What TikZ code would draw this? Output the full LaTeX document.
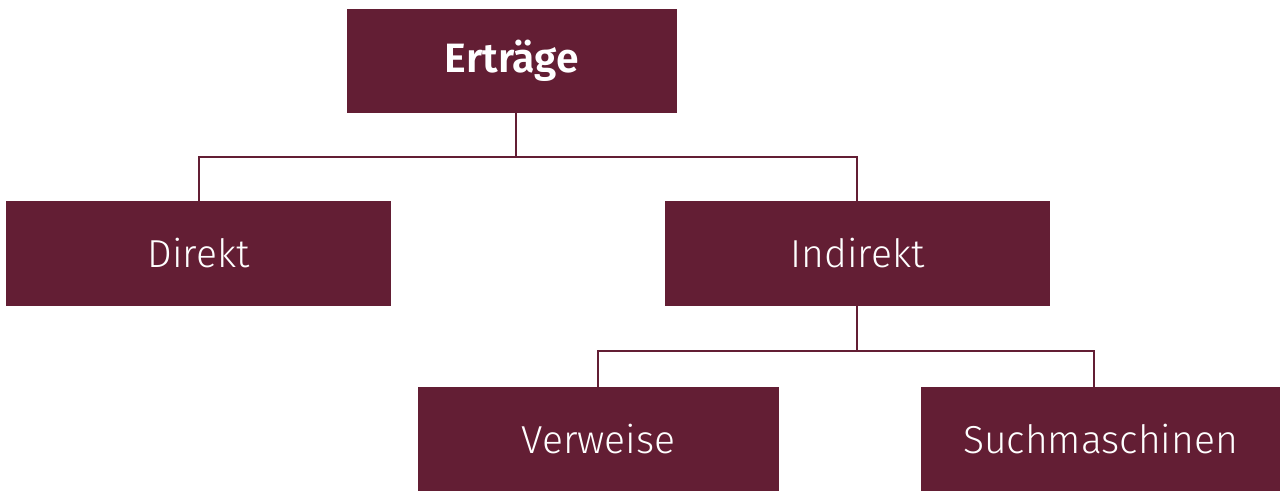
\documentclass[tikz,border=0pt]{standalone}
\usepackage{fontspec}
\setmainfont{Fira Sans Light}[BoldFont={Fira Sans SemiBold}]
\definecolor{maroon}{HTML}{631E34}
\begin{document}
\begin{tikzpicture}[x=1pt,y=-1pt,
  box/.style={fill=maroon,text=white,inner sep=0pt,font=\fontsize{39}{46}\selectfont},
  link/.style={draw=maroon,line width=2.2pt}]
\useasboundingbox (0,0) rectangle (1282,492);
\node[box,minimum width=330pt,minimum height=104pt,font=\fontsize{41}{49}\selectfont\bfseries] (e) at (512,61) {Erträge};
\node[box,minimum width=385pt,minimum height=105pt] (d) at (198.5,253.5) {Direkt};
\node[box,minimum width=385pt,minimum height=105pt] (i) at (857.5,253.5) {Indirekt};
\node[box,minimum width=361pt,minimum height=104pt] (v) at (598.5,439) {Verweise};
\node[box,minimum width=359pt,minimum height=104pt] (s) at (1100.5,439) {Suchmaschinen};
\coordinate (j1) at (516,157);
\coordinate (j2) at (857,351);
\draw[link] (e.south -| j1) -- (j1);
\draw[link] (j1) -| ([xshift=0.5pt]d.north);
\draw[link] (j1) -| ([xshift=-0.5pt]i.north);
\draw[link] ([xshift=-0.5pt]i.south) -- (j2);
\draw[link] (j2) -| ([xshift=-0.5pt]v.north);
\draw[link] (j2) -| ([xshift=-6.5pt]s.north);
\end{tikzpicture}
\end{document}
